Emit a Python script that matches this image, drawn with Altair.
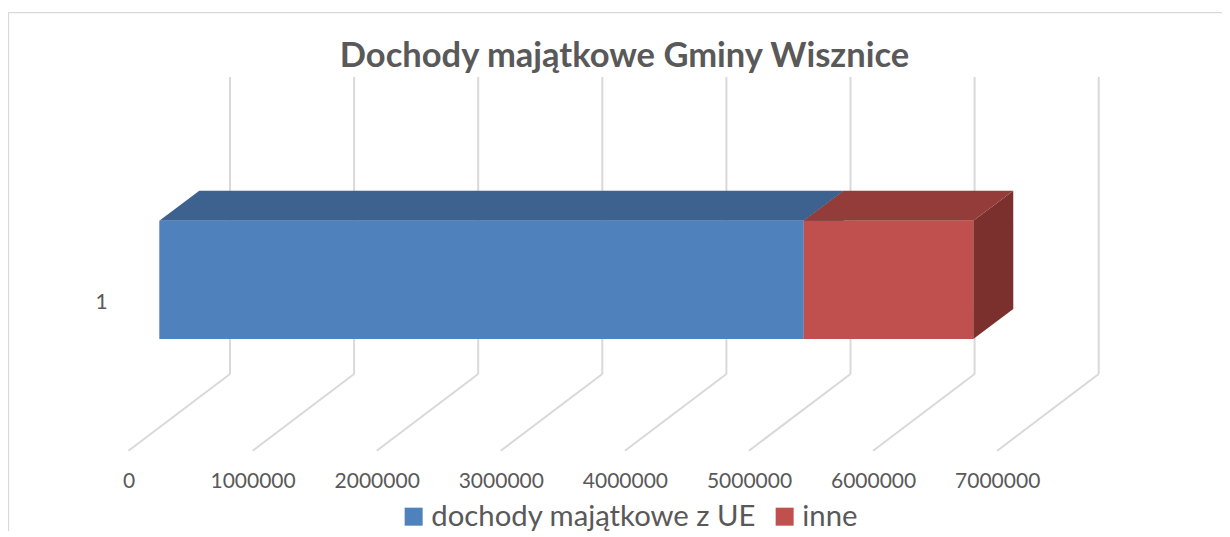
import altair as alt
import pandas as pd

# ---------------- data ----------------
title_text = ["Dochody majątkowe Gminy Wisznice"]
categories = ["1"]
series = ["dochody majątkowe z UE", "inne"]
values = [5193000, 1366000]
tick_values = [0, 1000000, 2000000, 3000000, 4000000, 5000000, 6000000, 7000000]

front_colors = ["#4f81bd", "#c0504d"]
top_colors = ["#3d6290", "#943c3a"]
side_colors = ["#3a5e88", "#7b302e"]

# ---------------- layout (view pixels) ----------------
W, H = 1214, 523
PX_PER_UNIT = 124.1 / 1e6
X0 = 120.5                      # pixel of value 0 on the front floor edge
XDOM = [-X0 / PX_PER_UNIT, (W - X0) / PX_PER_UNIT]


def u(px):
    return px / PX_PER_UNIT


FLOOR_FRONT_Y = 442.7
FLOOR_BACK_Y = 366.0
WALL_TOP_Y = 69.0
DEPTH_DX = 101.5
BAR_FRONT_DX = 30.8
BAR_DX = 40.0
BAR_DY = 30.0
BAR_TOP_Y = 212.7
BAR_BOT_Y = 331.0

FONT = "Lato"
TXT = "#595959"
GRID = "#d9d9d9"

xscale = alt.Scale(domain=XDOM, nice=False, zero=False)
yscale = alt.Scale(domain=[0, H], reverse=True, nice=False, zero=False)
xaxis = alt.Axis(values=tick_values, format="d", orient="bottom", offset=-(H - 473.7),
                 labelPadding=0, ticks=False, tickSize=0, domain=False, grid=False,
                 title=None, labelFontSize=21, labelFont=FONT, labelColor=TXT,
                 labelBaseline="middle")

# ---------------- tables ----------------
grid_df = pd.DataFrame({"v": tick_values})
grid_df["xb"] = grid_df["v"] + u(DEPTH_DX)
grid_df["yt"] = WALL_TOP_Y
grid_df["yfb"] = FLOOR_BACK_Y
grid_df["yff"] = FLOOR_FRONT_Y

starts, ends = [], []
acc = 0
for v in values:
    starts.append(acc)
    acc += v
    ends.append(acc)

front_rows, top_rows, side_rows = [], [], []
for s, a, b, fc, tc, sc in zip(series, starts, ends, front_colors, top_colors, side_colors):
    front_rows.append({"series": s, "x": a + u(BAR_FRONT_DX), "x2": b + u(BAR_FRONT_DX),
                       "y": BAR_TOP_Y, "y2": BAR_BOT_Y})
    top_rows.append({"series": s, "fill": tc, "y": BAR_TOP_Y,
                     "x": a + u(BAR_FRONT_DX), "x2": b + u(BAR_FRONT_DX)})
    top_rows.append({"series": s, "fill": tc, "y": BAR_TOP_Y - BAR_DY,
                     "x": a + u(BAR_FRONT_DX + BAR_DX), "x2": b + u(BAR_FRONT_DX + BAR_DX)})
    side_rows.append({"series": s, "fill": sc, "x": b + u(BAR_FRONT_DX),
                      "y": BAR_BOT_Y, "y2": BAR_TOP_Y})
    side_rows.append({"series": s, "fill": sc, "x": b + u(BAR_FRONT_DX + BAR_DX),
                      "y": BAR_BOT_Y - BAR_DY, "y2": BAR_TOP_Y - BAR_DY})

front_df = pd.DataFrame(front_rows)
top_df = pd.DataFrame(top_rows)
side_df = pd.DataFrame(side_rows)

# ---------------- layers ----------------
border = alt.Chart(pd.DataFrame({"a": [0]})).mark_rect(
    filled=False, stroke="#d9d9d9", strokeWidth=1.2
).encode(x=alt.value(0.5), y=alt.value(4.6), x2=alt.value(W + 20), y2=alt.value(H + 20))

wall = alt.Chart(grid_df).mark_rule(color=GRID, strokeWidth=2).encode(
    x=alt.X("xb:Q", scale=xscale, axis=xaxis),
    y=alt.Y("yt:Q", scale=yscale, axis=None),
    y2="yfb:Q",
)

floor = alt.Chart(grid_df).mark_rule(color=GRID, strokeWidth=2).encode(
    x=alt.X("v:Q", scale=xscale, axis=xaxis),
    y=alt.Y("yff:Q", scale=yscale, axis=None),
    x2="xb:Q",
    y2="yfb:Q",
)

sides = alt.Chart(side_df).mark_area(orient="vertical").encode(
    x=alt.X("x:Q", scale=xscale, axis=xaxis, stack=None),
    y=alt.Y("y:Q", scale=yscale, axis=None, stack=None),
    y2="y2:Q",
    detail="series:N",
    color=alt.Color("fill:N", scale=None),
)

tops = alt.Chart(top_df).mark_area(orient="horizontal").encode(
    y=alt.Y("y:Q", scale=yscale, axis=None, stack=None),
    x=alt.X("x:Q", scale=xscale, axis=xaxis, stack=None),
    x2="x2:Q",
    detail="series:N",
    color=alt.Color("fill:N", scale=None),
)

fronts = alt.Chart(front_df).mark_rect().encode(
    x=alt.X("x:Q", scale=xscale, axis=xaxis),
    x2="x2:Q",
    y=alt.Y("y:Q", scale=yscale, axis=None),
    y2="y2:Q",
    color=alt.Color(
        "series:N",
        scale=alt.Scale(domain=series, range=front_colors),
        sort=series,
        legend=alt.Legend(
            orient="none", legendX=391, legendY=494, direction="horizontal",
            title=None, symbolType="square", symbolSize=324, symbolStrokeWidth=0,
            labelFontSize=29.3, labelFont=FONT, labelColor=TXT, labelOffset=3,
            labelLimit=0, columnPadding=13, padding=0,
        ),
    ),
)

cat_label = alt.Chart(pd.DataFrame({"c": categories})).mark_text(
    font=FONT, fontSize=21, color=TXT, align="center", baseline="middle"
).encode(x=alt.value(93.7), y=alt.value(295), text="c:N")

title = alt.Chart(pd.DataFrame({"t": title_text})).mark_text(
    font=FONT, fontSize=34.5, fontWeight="bold", color=TXT, align="center", baseline="middle"
).encode(x=alt.value(616.5), y=alt.value(49), text="t:N")

chart = alt.layer(border, wall, floor, sides, tops, fronts, cat_label, title).resolve_scale(
    color="independent"
).properties(
    width=W, height=H, padding=0, autosize="none", background="white"
).configure_view(stroke=None)

chart.save("out.html", embed_options={"renderer": "svg", "actions": False})
